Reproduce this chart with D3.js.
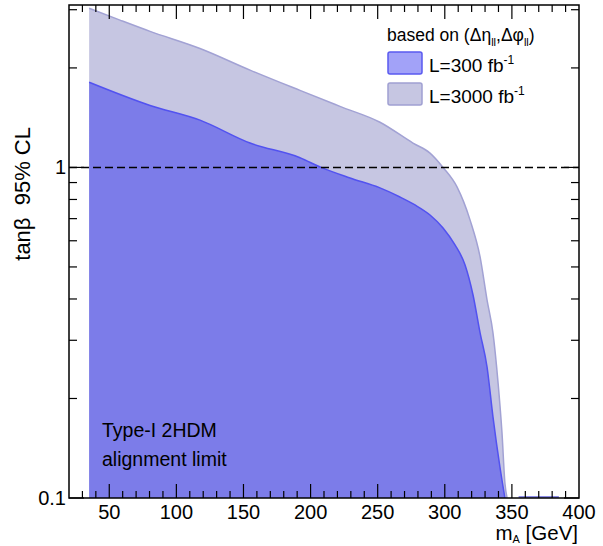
<!DOCTYPE html>
<html>
<head>
<meta charset="utf-8">
<script src="https://cdn.jsdelivr.net/npm/d3@7"></script>
<style>
  body { margin: 0; background: #fff; }
  svg { display: block; font-family: "Liberation Sans", Arial, sans-serif; }
</style>
</head>
<body>
<div id="chart"></div>
<script>
// L = 300 fb^-1 limit (upper edge of the excluded band)
const mass300 = [35, 80.4, 117.6, 154.9, 192.1, 207.8, 229.4, 251.7, 266.6, 277.8, 289.0, 298.7, 307.6, 315.1, 321.0, 326.3, 331.5, 335.9, 341.1, 344.8];
const tanb300 = [1.81, 1.54, 1.39, 1.185, 1.07, 1.0, 0.929, 0.867, 0.814, 0.770, 0.718, 0.656, 0.583, 0.507, 0.412, 0.316, 0.249, 0.176, 0.124, 0.1];

// L = 3000 fb^-1 limit
const mass3000 = [35, 58.0, 80.4, 117.6, 154.9, 192.1, 221.9, 251.7, 276.3, 289.0, 298.7, 309.1, 318.8, 326.3, 331.5, 335.9, 339.7, 342.6, 344.8, 346.4];
const tanb3000 = [3.03, 2.79, 2.58, 2.29, 1.97, 1.71, 1.53, 1.37, 1.185, 1.105, 1.0, 0.873, 0.694, 0.536, 0.397, 0.316, 0.223, 0.158, 0.111, 0.1];

// little stray piece of contour lying on the lower frame
const strayMass = [355, 385];

const xTicksMajor = [50, 100, 150, 200, 250, 300, 350, 400];
const yTickLabels = [0.1, 1];
const yMinor = [0.2, 0.3, 0.4, 0.5, 0.6, 0.7, 0.8, 0.9, 2, 3];

const width = 603;
const height = 546;
const margin = { top: 5, right: 24, bottom: 48, left: 69 };

const svg = d3.select('#chart')
    .append('svg')
    .attr('width', width)
    .attr('height', height);

const xScale = d3.scaleLinear()
    .domain([20, 400])
    .range([margin.left, width - margin.right]);

const yScale = d3.scaleLog()
    .domain([0.1, 3.1])
    .range([height - margin.bottom, margin.top]);

svg.append('clipPath').attr('id', 'frame-clip')
    .append('rect')
    .attr('x', margin.left)
    .attr('y', margin.top)
    .attr('width', xScale.range()[1] - margin.left)
    .attr('height', yScale.range()[0] - margin.top);

const plot = svg.append('g').attr('clip-path', 'url(#frame-clip)');

function band(masses, tanbs) {
    return masses.map((m, i) => ({ m, t: tanbs[i] }));
}

const area = d3.area()
    .x((d) => xScale(d.m))
    .y0(yScale(0.1))
    .y1((d) => yScale(d.t))
    .curve(d3.curveMonotoneX);

const edge = d3.line()
    .x((d) => xScale(d.m))
    .y((d) => yScale(d.t))
    .curve(d3.curveMonotoneX);

const data3000 = band(mass3000, tanb3000);
const data300 = band(mass300, tanb300);

plot.append('path').attr('d', area(data3000)).attr('fill', '#c6c6e2');
plot.append('path').attr('d', edge(data3000))
    .attr('fill', 'none').attr('stroke', '#a2a2d4').attr('stroke-width', 1.5);

plot.append('path').attr('d', area(data300)).attr('fill', '#7c7ce9');
plot.append('path').attr('d', edge(data300))
    .attr('fill', 'none').attr('stroke', '#5252f0').attr('stroke-width', 1.5);

plot.append('line')
    .attr('x1', xScale(strayMass[0])).attr('x2', xScale(strayMass[1]))
    .attr('y1', yScale(0.1) - 1).attr('y2', yScale(0.1) - 1)
    .attr('stroke', '#8c8ce6').attr('stroke-width', 2);

// dashed line at tanb = 1
svg.append('line')
    .attr('x1', xScale(20)).attr('x2', xScale(400))
    .attr('y1', yScale(1)).attr('y2', yScale(1))
    .attr('stroke', '#000').attr('stroke-width', 1.5)
    .attr('stroke-dasharray', '8,4');

// ticks on all four sides, pointing inwards
const x0 = xScale.range()[0], x1 = xScale.range()[1];
const yb = yScale.range()[0], yt = yScale.range()[1];
const ticks = svg.append('g').attr('stroke', '#000').attr('stroke-width', 1.2);

d3.range(30, 400, 10).forEach((v) => {
    const len = v % 50 === 0 ? 14 : 7;
    const x = xScale(v);
    ticks.append('line').attr('x1', x).attr('x2', x).attr('y1', yb).attr('y2', yb - len);
    ticks.append('line').attr('x1', x).attr('x2', x).attr('y1', yt).attr('y2', yt + len);
});

yTickLabels.concat(yMinor).forEach((v) => {
    const len = yTickLabels.includes(v) ? 15 : 8;
    const y = yScale(v);
    ticks.append('line').attr('x1', x0).attr('x2', x0 + len).attr('y1', y).attr('y2', y);
    ticks.append('line').attr('x1', x1).attr('x2', x1 - len).attr('y1', y).attr('y2', y);
});

// frame
svg.append('rect')
    .attr('x', x0).attr('y', yt)
    .attr('width', x1 - x0).attr('height', yb - yt)
    .attr('fill', 'none').attr('stroke', '#000').attr('stroke-width', 1.5);

// tick labels
svg.append('g').selectAll('text')
    .data(xTicksMajor)
    .join('text')
    .attr('x', (d) => xScale(d))
    .attr('y', 519)
    .attr('text-anchor', 'middle')
    .attr('font-size', 20)
    .text((d) => d);

svg.append('g').selectAll('text')
    .data(yTickLabels)
    .join('text')
    .attr('x', 66)
    .attr('y', (d) => yScale(d) + 7)
    .attr('text-anchor', 'end')
    .attr('font-size', 20)
    .text((d) => d);

// axis titles
const xTitle = svg.append('text')
    .attr('x', 578).attr('y', 540)
    .attr('text-anchor', 'end')
    .attr('font-size', 20.5);
xTitle.append('tspan').text('m');
xTitle.append('tspan').attr('font-size', 11).attr('dy', 3).text('A');
xTitle.append('tspan').attr('dy', -3).text(' [GeV]');

svg.append('text')
    .attr('transform', 'translate(30,127) rotate(-90)')
    .attr('text-anchor', 'end')
    .attr('font-size', 22)
    .style('white-space', 'pre')
    .text('tanβ  95% CL');

// annotation
svg.append('text').attr('x', 102).attr('y', 437).attr('font-size', 19.5).text('Type-I 2HDM');
svg.append('text').attr('x', 102).attr('y', 466).attr('font-size', 19.5).text('alignment limit');

// legend
const legend = svg.append('g');
const head = legend.append('text').attr('x', 387).attr('y', 41).attr('font-size', 17.5);
head.append('tspan').text('based on (Δη');
head.append('tspan').attr('font-size', 11).attr('dy', 5).text('ll');
head.append('tspan').attr('dy', -5).text(',Δφ');
head.append('tspan').attr('font-size', 11).attr('dy', 5).text('ll');
head.append('tspan').attr('dy', -5).text(')');

const legendItems = [
    { label: 'L=300 fb', fill: '#a2a2f8', stroke: '#5a5af0', y: 52 },
    { label: 'L=3000 fb', fill: '#c6c6e2', stroke: '#a0a0d2', y: 83 },
];
legendItems.forEach((d) => {
    legend.append('rect')
        .attr('x', 388).attr('y', d.y)
        .attr('width', 34).attr('height', 22)
        .attr('rx', 2)
        .attr('fill', d.fill).attr('stroke', d.stroke).attr('stroke-width', 1.5);
    const t = legend.append('text').attr('x', 429).attr('y', d.y + 20).attr('font-size', 19);
    t.append('tspan').text(d.label);
    t.append('tspan').attr('font-size', 12).attr('dy', -8).text('-1');
});
</script>
</body>
</html>
